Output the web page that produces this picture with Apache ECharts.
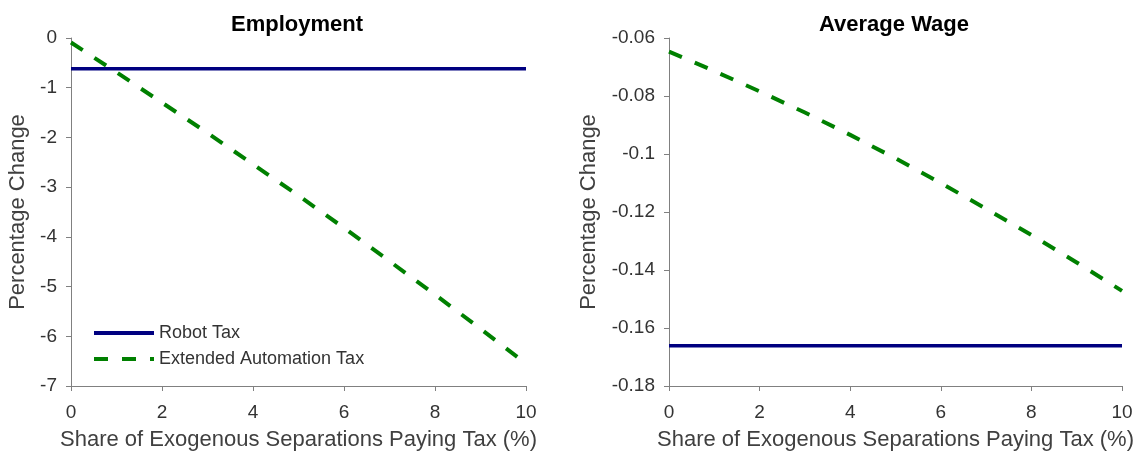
<!DOCTYPE html>
<html>
<head>
<meta charset="utf-8">
<script src="https://cdn.jsdelivr.net/npm/echarts@6/dist/echarts.min.js"></script>
<style>
  html, body { margin: 0; padding: 0; background: #fff; }
  #main { width: 1141px; height: 456px; }
</style>
</head>
<body>
<div id="main"></div>
<script>
// share of exogenous separations paying tax (%)
var shares = [0, 1, 2, 3, 4, 5, 6, 7, 8, 9, 10];
// employment, % change
var empRobot = [-0.62, -0.62, -0.62, -0.62, -0.62, -0.62, -0.62, -0.62, -0.62, -0.62, -0.62];
var empExtended = [-0.09, -0.69, -1.30, -1.91, -2.54, -3.17, -3.82, -4.49, -5.16, -5.85, -6.55];
// average wage, % change
var wageRobot = [-0.1661, -0.1661, -0.1661, -0.1661, -0.1661, -0.1661, -0.1661, -0.1661, -0.1661, -0.1661, -0.1661];
var wageExtended = [-0.0647, -0.0714, -0.0784, -0.0857, -0.0934, -0.1015, -0.1100, -0.1189, -0.1279, -0.1374, -0.1472];

var titles = ["Employment", "Average Wage"];
var seriesNames = ["Robot Tax", "Extended Automation Tax"];

function pairs(ys) {
  return shares.map(function (x, i) { return [x, ys[i]]; });
}

var FONT = "'Liberation Sans', Arial, sans-serif";
var axisGray = "#808080";

function xAxisCfg(idx) {
  return {
    type: "value",
    gridIndex: idx,
    min: 0,
    max: 10,
    interval: 2,
    name: "Share of Exogenous Separations Paying Tax (%)",
    nameLocation: "middle",
    nameGap: 43,
    nameTextStyle: { fontFamily: FONT, fontSize: 22, color: "#404040" },
    axisLine: { onZero: false, lineStyle: { color: axisGray, width: 1 } },
    axisTick: { length: 5, lineStyle: { color: axisGray } },
    axisLabel: { fontFamily: FONT, fontSize: 19, color: "#333", margin: 17 },
    splitLine: { show: false }
  };
}

function yAxisCfg(idx, min, max, step, gap) {
  return {
    type: "value",
    gridIndex: idx,
    min: min,
    max: max,
    interval: step,
    name: "Percentage Change",
    nameLocation: "middle",
    nameGap: gap,
    nameTextStyle: { fontFamily: FONT, fontSize: 22, color: "#404040" },
    axisLine: { show: true, onZero: false, lineStyle: { color: axisGray, width: 1 } },
    axisTick: { show: true, length: 5, lineStyle: { color: axisGray } },
    axisLabel: {
      fontFamily: FONT, fontSize: 19, color: "#333", margin: 14,
      formatter: function (v) { return String(+v.toFixed(2)); }
    },
    splitLine: { show: false }
  };
}

function robotSeries(idx, ys) {
  return {
    name: seriesNames[0],
    type: "line",
    xAxisIndex: idx,
    yAxisIndex: idx,
    symbol: "none",
    lineStyle: { color: "#000080", width: 3.5 },
    itemStyle: { color: "#000080" },
    data: pairs(ys)
  };
}

function extendedSeries(idx, ys) {
  return {
    name: seriesNames[1],
    type: "line",
    xAxisIndex: idx,
    yAxisIndex: idx,
    symbol: "none",
    lineStyle: { color: "#008000", width: 4, type: [14, 14] },
    itemStyle: { color: "#008000" },
    data: pairs(ys)
  };
}

var chart = echarts.init(document.getElementById("main"), null, { renderer: "canvas" });
chart.setOption({
  animation: false,
  backgroundColor: "#fff",
  title: [
    { text: titles[0], left: 292, top: 9, textAlign: "center",
      textStyle: { fontFamily: FONT, fontSize: 22, fontWeight: "bold", color: "#000" } },
    { text: titles[1], left: 889, top: 9, textAlign: "center",
      textStyle: { fontFamily: FONT, fontSize: 22, fontWeight: "bold", color: "#000" } }
  ],
  legend: {
    data: seriesNames,
    orient: "vertical",
    left: 92,
    top: 324,
    padding: 0,
    itemWidth: 60,
    itemHeight: 14,
    itemGap: 8,
    itemStyle: { opacity: 0 },
    lineStyle: { width: 4 },
    textStyle: { fontFamily: FONT, fontSize: 18, color: "#333" }
  },
  grid: [
    { left: 71, top: 38, width: 455, height: 351 },
    { left: 669, top: 38, width: 453, height: 351 }
  ],
  xAxis: [xAxisCfg(0), xAxisCfg(1)],
  yAxis: [
    yAxisCfg(0, -7, 0, 1, 42),
    yAxisCfg(1, -0.18, -0.06, 0.02, 69)
  ],
  series: [
    robotSeries(0, empRobot),
    extendedSeries(0, empExtended),
    robotSeries(1, wageRobot),
    extendedSeries(1, wageExtended)
  ]
});
</script>
</body>
</html>
